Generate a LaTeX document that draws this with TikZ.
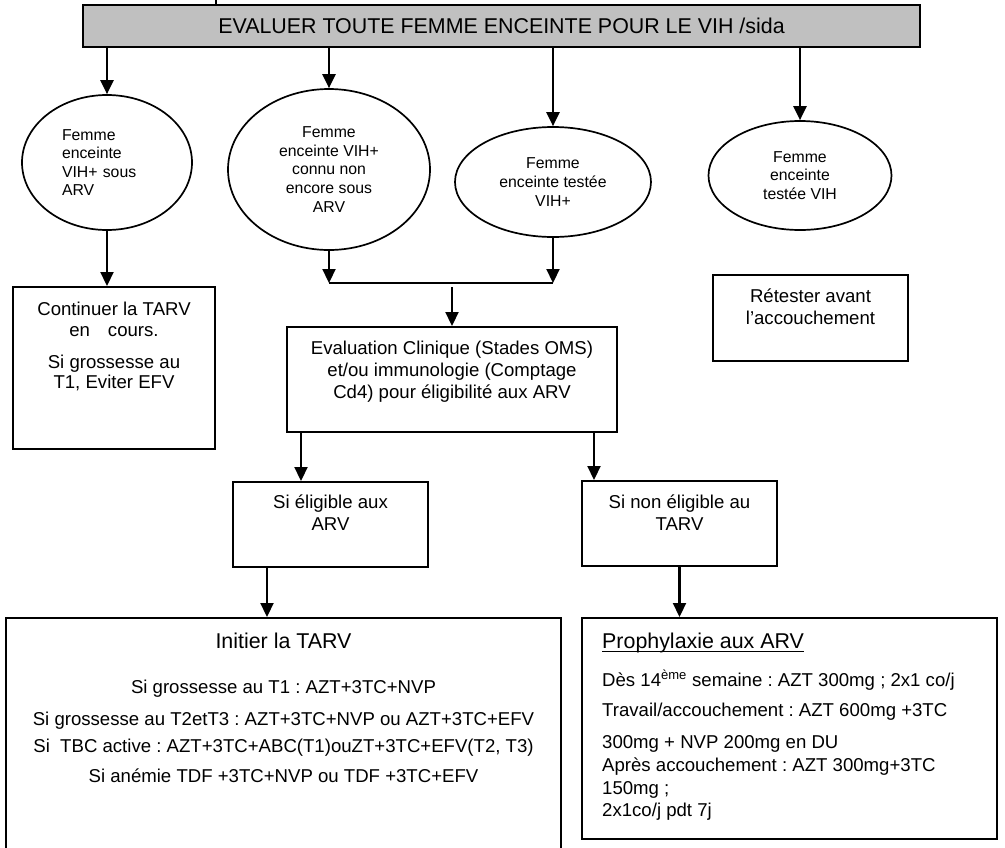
\documentclass[tikz,border=0pt]{standalone}
\usepackage{amsmath}
\usepackage{fontspec}
\setmainfont{Liberation Sans}
\usepackage{tikz}
\usetikzlibrary{positioning,shapes.geometric,arrows.meta}
\definecolor{headgray}{RGB}{192,192,192}
\newcommand{\headfont}{\fontsize{21.4}{25}\selectfont}
\newcommand{\boxfont}{\fontsize{18.6}{22}\selectfont}
\newcommand{\ovalfont}{\fontsize{15.8}{18.6}\selectfont}
\frenchspacing

\begin{document}
\begin{tikzpicture}[x=1pt, y=-1pt,
    arr/.style={-{Triangle[length=14pt,width=13pt]}, line width=2.2pt},
    box/.style={draw, line width=2pt, inner sep=0pt},
    oval/.style={draw, ellipse, line width=1.7pt, inner sep=0pt, align=center, font=\ovalfont},
    txt/.style={inner sep=0pt, align=center, font=\boxfont}]
    \useasboundingbox (0,0) rectangle (1005,847);
    \clip (0,0) rectangle (1005,847);
    % en-tete
    \node[box, fill=headgray, minimum width=837pt, minimum height=42pt, font=\headfont] (top) at (501.5,26) {EVALUER TOUTE FEMME ENCEINTE POUR LE VIH /sida};
    \coordinate (tick) at (216,0);
    \draw[line width=2pt] (tick |- top.north) -- (tick);
    % les quatre cas
    \node[oval, text width=90pt, align=left, minimum width=170pt, minimum height=135pt] (e1) at (107,162.5) {Femme\\enceinte\\VIH+ sous\\ARV};
    \node[oval, minimum width=202pt, minimum height=161pt] (e2) at (329,169.5) {Femme\\enceinte VIH+\\connu non\\encore sous\\ARV};
    \node[oval, minimum width=196pt, minimum height=110pt] (e3) at (553,182) {Femme\\enceinte test\'ee\\VIH+};
    \node[oval, minimum width=183pt, minimum height=109pt] (e4) at (800,175.5) {Femme\\enceinte\\test\'ee VIH};
    \foreach \e in {e1,e2,e3,e4}
        \draw[arr] (top.south -| \e.north) -- (\e.north);
    % boites
    \node[box, minimum width=202pt, minimum height=162pt] (cont) at (114,368) {};
    \node[txt, font=\fontsize{18.6}{20.5}\selectfont, below=16pt of cont.north] (conttxt) {Continuer la TARV\\en\hspace{18pt}cours.\\[11.5pt]Si grossesse au\\T1, Eviter EFV};
    \node[box, minimum width=195pt, minimum height=86pt] (retest) at (810.5,318) {};
    \node[txt, below=15pt of retest.north] (retesttxt) {R\'etester avant\\l’accouchement};
    \node[box, minimum width=330pt, minimum height=105pt] (eval) at (452,379.5) {};
    \node[txt, below=15pt of eval.north] (evaltxt) {Evaluation Clinique (Stades OMS)\\et/ou immunologie (Comptage\\Cd4) pour \'eligibilit\'e aux ARV};
    \node[box, minimum width=195pt, minimum height=85pt] (elig) at (330.5,524.5) {};
    \node[txt, below=14pt of elig.north] (eligtxt) {Si \'eligible aux\\ARV};
    \node[box, minimum width=195pt, minimum height=85pt] (nonel) at (679.5,523.5) {};
    \node[txt, below=15pt of nonel.north] (noneltxt) {Si non \'eligible au\\TARV};
    \node[box, minimum width=555pt, minimum height=252pt] (init) at (283.5,744) {};
    \node[txt, font=\headfont, below=16pt of init.north] (inittitle) {Initier la TARV};
    \node[txt, below=63pt of init.north] (initbody) {Si grossesse au T1 : AZT+3TC+NVP\\[10pt]Si grossesse au T2etT3 : AZT+3TC+NVP ou AZT+3TC+EFV\\[5pt]Si\ \ TBC active : AZT+3TC+ABC(T1)ouZT+3TC+EFV(T2, T3)\\[8pt]Si an\'emie TDF +3TC+NVP ou TDF +3TC+EFV};
    \node[box, minimum width=415pt, minimum height=221pt] (proph) at (789.5,728.5) {};
    \node[txt, font=\headfont, below right=16pt and 21pt of proph.north west] (prophtitle) {\underline{\smash[b]{Prophylaxie aux ARV}}};
    \node[txt, align=left, below right=53pt and 21pt of proph.north west] (prophbody) {D\`es 14\textsuperscript{\`eme} semaine : AZT 300mg ; 2x1 co/j\\[8pt]Travail/accouchement : AZT 600mg +3TC\\[10pt]300mg + NVP 200mg en DU\\[1pt]Apr\`es accouchement : AZT 300mg+3TC\\[1pt]150mg ;\\2x1co/j pdt 7j};
    % fleches
    \draw[arr] (e1.south) -- (e1.south |- cont.north);
    \coordinate (mrg) at (452,283);
    \draw[arr] (e2.south) -- (e2.south |- mrg);
    \draw[arr] (e3.south) -- (e3.south |- mrg);
    \draw[line width=2pt] (e2.south |- mrg) -- (e3.south |- mrg);
    \draw[arr] ([yshift=-4pt]mrg) -- (eval.north);
    \coordinate (evl) at ([xshift=15pt]eval.south west);
    \coordinate (evr) at ([xshift=-24pt]eval.south east);
    \draw[arr] (evl) -- (evl |- elig.north);
    \draw[arr] (evr) -- (evr |- nonel.north);
    \coordinate (ell) at ([xshift=35pt]elig.south west);
    \draw[arr] (ell) -- (ell |- init.north);
    \draw[arr] (nonel.south) -- (nonel.south |- proph.north);
\end{tikzpicture}
\end{document}
